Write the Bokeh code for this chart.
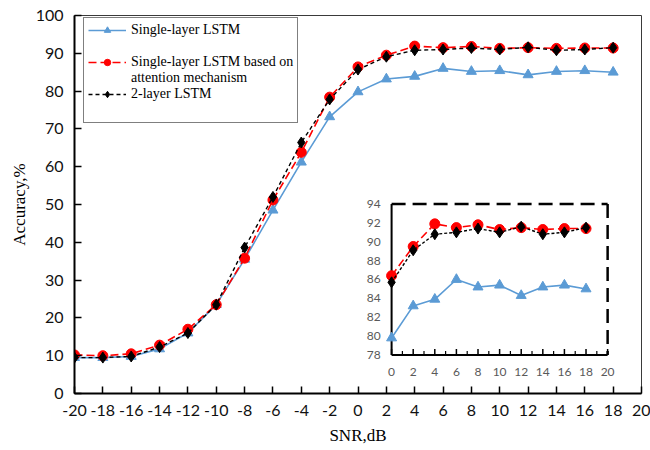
import numpy as np
from bokeh.plotting import figure
from bokeh.models import Range1d, Legend, LegendItem, FixedTicker
from bokeh.core.properties import value
from bokeh.embed import file_html
from bokeh.resources import INLINE

# ---- data ----
snr = [-20, -18, -16, -14, -12, -10, -8, -6, -4, -2, 0, 2, 4, 6, 8, 10, 12, 14, 16, 18]
single_lstm = [9.5, 9.5, 9.8, 11.8, 16.0, 23.5, 35.5, 48.5, 61.2, 73.2, 79.8, 83.2, 83.9, 86.0, 85.2, 85.4, 84.3, 85.2, 85.4, 85.0]
attention_lstm = [10.2, 10.0, 10.5, 12.8, 17.0, 23.5, 35.8, 51.2, 63.8, 78.4, 86.4, 89.5, 91.9, 91.5, 91.8, 91.3, 91.5, 91.3, 91.4, 91.4]
two_layer_lstm = [9.5, 9.5, 9.8, 12.3, 16.0, 23.5, 38.6, 52.0, 66.4, 77.8, 85.7, 89.1, 90.8, 91.0, 91.4, 91.0, 91.6, 90.8, 91.0, 91.5]

x_ticks = list(range(-20, 21, 2))
y_ticks = list(range(0, 101, 10))
x_range_main = [-20, 20]
y_range_main = [0, 100]

inset_x_range = [0, 20]
inset_y_range = [78, 94]
inset_x_ticks = list(range(0, 21, 2))
inset_x_minor = list(range(1, 20, 2))
inset_y_ticks = list(range(78, 95, 2))

names = ["Single-layer LSTM", "Single-layer LSTM based on", "attention mechanism", "2-layer LSTM"]

BLUE = "#5b9bd5"
RED = "#ff0000"
BLACK = "#000000"

p = figure(width=650, height=450, x_range=Range1d(*x_range_main), y_range=Range1d(*y_range_main),
           output_backend="svg", toolbar_location=None,
           min_border_left=74, min_border_right=9, min_border_top=15, min_border_bottom=57)
p.grid.visible = False
p.outline_line_color = "#3a3a3a"
p.outline_line_width = 1
p.background_fill_color = "white"

for ax, ticks in ((p.xaxis, x_ticks), (p.yaxis, y_ticks)):
    ax.ticker = FixedTicker(ticks=ticks)
    ax.major_label_overrides = {t: str(t) for t in ticks}
    ax.major_tick_in = 7
    ax.major_tick_out = 0
    ax.minor_tick_in = 0
    ax.minor_tick_out = 0
    ax.axis_line_color = "black"
    ax.axis_line_width = 2
    ax.major_tick_line_color = "black"
    ax.major_tick_line_width = 1.5
    ax.major_label_text_font = "Lato"
    ax.major_label_text_font_size = "16px"
    ax.major_label_text_color = "#111111"
    ax.axis_label_text_font = "Liberation Serif"
    ax.axis_label_text_font_size = "17px"
    ax.axis_label_text_font_style = "normal"
    ax.axis_label_text_color = "black"

p.xaxis.axis_label = "SNR,dB"
p.yaxis.axis_label = "Accuracy,%"
p.xaxis.major_label_standoff = 11
p.xaxis.axis_label_standoff = 7
p.yaxis.major_label_standoff = 11
p.yaxis.axis_label_standoff = 4

# main series
l1 = p.line(snr, single_lstm, line_color=BLUE, line_width=1.6)
s1 = p.scatter(snr, single_lstm, marker="triangle", size=10, fill_color=BLUE, line_color=BLUE)
l2 = p.line(snr, attention_lstm, line_color=RED, line_width=1.6, line_dash="8 4")
s2 = p.scatter(snr, attention_lstm, marker="circle", size=10, fill_color=RED, line_color=RED)
l3 = p.line(snr, two_layer_lstm, line_color=BLACK, line_width=1.4, line_dash="4 3")
s3 = p.scatter(snr, two_layer_lstm, marker="diamond", size=11, fill_color=BLACK, line_color=BLACK)

# invisible renderer used for spacer / continuation rows of the legend
blank = p.line(x=[], y=[], line_alpha=0)

legend = Legend(items=[LegendItem(label=names[0], renderers=[l1, s1]),
                       LegendItem(label=" ", renderers=[blank]),
                       LegendItem(label=names[1], renderers=[l2, s2]),
                       LegendItem(label=names[2], renderers=[blank]),
                       LegendItem(label=names[3], renderers=[l3, s3]),
                       LegendItem(label=" ", renderers=[blank])],
                location=(9, 270), margin=0, padding=4, spacing=0,
                label_height=16, glyph_height=16,
                glyph_width=38, label_standoff=5,
                label_text_font="Liberation Serif", label_text_font_size="14px",
                label_text_color="black",
                border_line_color="black", border_line_width=1.5,
                background_fill_color="white", background_fill_alpha=1)
p.add_layout(legend)

# ---- inset ----
sub = p.subplot(x_source=Range1d(*inset_x_range), y_source=Range1d(*inset_y_range),
                x_target=Range1d(2.37, 17.61), y_target=Range1d(10.2, 50.12))

ix0, ix1 = inset_x_range
iy0, iy1 = inset_y_range
# frame: solid left/bottom axes, dashed top/right
sub.segment(x0=[ix0, ix0], y0=[iy0, iy0], x1=[ix0, ix1], y1=[iy1, iy0], line_color="black", line_width=2)
sub.segment(x0=[ix0, ix1], y0=[iy1, iy1], x1=[ix1, ix1], y1=[iy1, iy0], line_color="black", line_width=2.5,
            line_dash="14 7")
# ticks
sub.ray(x=inset_x_ticks, y=[iy0] * len(inset_x_ticks), length=6, length_units="screen", angle=np.pi / 2,
        line_color="black", line_width=1.5)
sub.ray(x=inset_x_minor, y=[iy0] * len(inset_x_minor), length=4, length_units="screen", angle=np.pi / 2,
        line_color="black", line_width=1.2)
sub.text(x=inset_x_ticks, y=[iy0] * len(inset_x_ticks), text=[str(t) for t in inset_x_ticks],
         text_align="center", text_baseline="top", y_offset=13,
         text_font=value("Lato"), text_font_size="12px", text_color="#595959")
sub.text(x=[ix0] * len(inset_y_ticks), y=inset_y_ticks, text=[str(t) for t in inset_y_ticks],
         text_align="right", text_baseline="middle", x_offset=-11,
         text_font=value("Lato"), text_font_size="12px", text_color="#595959")

ins_idx = [i for i, v in enumerate(snr) if v >= 0]
isnr = [snr[i] for i in ins_idx]
isingle = [single_lstm[i] for i in ins_idx]
iatt = [attention_lstm[i] for i in ins_idx]
itwo = [two_layer_lstm[i] for i in ins_idx]

sub.line(isnr, isingle, line_color=BLUE, line_width=1.6)
sub.scatter(isnr, isingle, marker="triangle", size=10, fill_color=BLUE, line_color=BLUE)
sub.line(isnr, iatt, line_color=RED, line_width=1.6, line_dash="8 4")
sub.scatter(isnr, iatt, marker="circle", size=10, fill_color=RED, line_color=RED)
sub.line(isnr, itwo, line_color=BLACK, line_width=1.4, line_dash="3 2")
sub.scatter(isnr, itwo, marker="diamond", size=11, fill_color=BLACK, line_color=BLACK)

open("out.html", "w").write(file_html(p, INLINE))
